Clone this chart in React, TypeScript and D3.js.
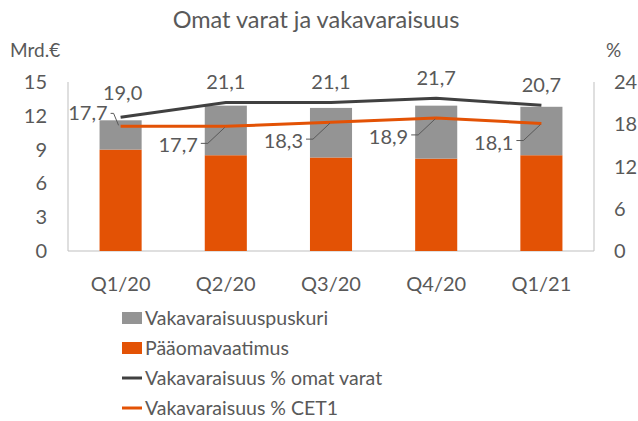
import React from "react";
import * as d3 from "d3";

const categories = ["Q1/20", "Q2/20", "Q3/20", "Q4/20", "Q1/21"];
const paaomavaatimus = [9.0, 8.5, 8.3, 8.2, 8.5];
const puskuri = [2.6, 4.4, 4.4, 4.7, 4.3];
const omatVarat = [19.0, 21.1, 21.1, 21.7, 20.7];
const cet1 = [17.7, 17.7, 18.3, 18.9, 18.1];
const leftTicks = [0, 3, 6, 9, 12, 15];
const rightTicks = [0, 6, 12, 18, 24];
const legendLabels = [
  "Vakavaraisuuspuskuri",
  "Pääomavaatimus",
  "Vakavaraisuus % omat varat",
  "Vakavaraisuus % CET1",
];

const W = 638;
const H = 421;
const ORANGE = "#E35205";
const GRAY = "#949494";
const DARK = "#404040";
const TEXT = "#595959";
const AXIS = "#BFBFBF";
const FONT = "Lato, 'Open Sans', sans-serif";

const fmt = (v: number) => v.toFixed(1).replace(".", ",");

export default function App() {
  const x = d3.scaleBand<string>().domain(categories).range([68, 594]).paddingInner(0.6).paddingOuter(0.3);
  const yL = d3.scaleLinear().domain([0, 15]).range([251, 82]);
  const yR = d3.scaleLinear().domain([0, 24]).range([251, 82]);
  const cx = (c: string) => (x(c) as number) + x.bandwidth() / 2;

  const line = d3
    .line<number>()
    .x((_, i) => cx(categories[i]))
    .y((d) => yR(d));

  return (
    <svg width={W} height={H} style={{ position: "absolute", left: 0, top: 0, fontFamily: FONT }}>
      <rect width={W} height={H} fill="#fff" />
      <text x={316} y={28} textAnchor="middle" fontSize={23.5} fill={TEXT}>
        Omat varat ja vakavaraisuus
      </text>
      <text x={10} y={57} fontSize={19} fill={TEXT}>Mrd.€</text>
      <text x={606} y={57} fontSize={19} fill={TEXT}>%</text>

      {/* axes */}
      <line x1={68} x2={68} y1={82} y2={251} stroke={AXIS} />
      <line x1={594} x2={594} y1={82} y2={251} stroke={AXIS} />
      <line x1={68} x2={594} y1={251} y2={251} stroke={AXIS} />

      {leftTicks.map((t) => (
        <text key={"l" + t} x={47} y={yL(t)} dy="0.35em" textAnchor="end" fontSize={20} fill={TEXT}>
          {t}
        </text>
      ))}
      {rightTicks.map((t) => (
        <text key={"r" + t} x={614} y={yR(t)} dy="0.35em" textAnchor="start" fontSize={20} fill={TEXT}>
          {t}
        </text>
      ))}
      {categories.map((c) => (
        <text key={c} x={cx(c)} y={291} textAnchor="middle" fontSize={20} fill={TEXT}>
          {c}
        </text>
      ))}

      {/* bars */}
      {categories.map((c, i) => (
        <g key={"b" + c}>
          <rect x={x(c)} width={x.bandwidth()} y={yL(paaomavaatimus[i])} height={yL(0) - yL(paaomavaatimus[i])} fill={ORANGE} />
          <rect
            x={x(c)}
            width={x.bandwidth()}
            y={yL(paaomavaatimus[i] + puskuri[i])}
            height={yL(paaomavaatimus[i]) - yL(paaomavaatimus[i] + puskuri[i])}
            fill={GRAY}
          />
        </g>
      ))}

      {/* lines */}
      <path d={line(omatVarat) || ""} fill="none" stroke={DARK} strokeWidth={3} />
      <path d={line(cet1) || ""} fill="none" stroke={ORANGE} strokeWidth={3} />

      {/* omat varat labels */}
      {omatVarat.map((v, i) => (
        <text
          key={"ov" + i}
          x={cx(categories[i]) + (i === 0 ? 2 : 0)}
          y={yR(v) - (i === 0 ? 24 : 20)}
          dy="0.35em"
          textAnchor="middle"
          fontSize={20}
          fill={TEXT}
        >
          {fmt(v)}
        </text>
      ))}

      {/* cet1 labels with leader lines */}
      {cet1.map((v, i) => {
        const px = cx(categories[i]);
        const py = yR(v);
        if (i === 0) {
          const tx = px - 13;
          const ty = py - 13;
          return (
            <g key={"c" + i}>
              <text x={tx} y={ty} dy="0.35em" textAnchor="end" fontSize={20} fill={TEXT}>
                {fmt(v)}
              </text>
              <polyline
                points={`${tx + 3},${ty} ${tx + 6},${ty} ${px - 2},${py - 1}`}
                fill="none"
                stroke={TEXT}
                strokeWidth={1}
              />
            </g>
          );
        }
        const tx = px - 28;
        const ty = py + 19;
        return (
          <g key={"c" + i}>
            <text x={tx} y={ty} dy="0.35em" textAnchor="end" fontSize={20} fill={TEXT}>
              {fmt(v)}
            </text>
            <polyline
              points={`${tx + 3},${ty - 2} ${tx + 10},${ty - 2} ${px - 1},${py + 1}`}
              fill="none"
              stroke={TEXT}
              strokeWidth={1}
            />
          </g>
        );
      })}

      {/* legend */}
      {legendLabels.map((l, i) => {
        const ly = 318 + i * 30;
        return (
          <g key={l}>
            {i < 2 ? (
              <rect x={122} y={ly - 6} width={20} height={12} fill={i === 0 ? GRAY : ORANGE} />
            ) : (
              <line x1={122} x2={142} y1={ly} y2={ly} stroke={i === 2 ? DARK : ORANGE} strokeWidth={3} />
            )}
            <text x={145} y={ly} dy="0.35em" fontSize={19.5} fill={TEXT}>
              {l}
            </text>
          </g>
        );
      })}
    </svg>
  );
}
